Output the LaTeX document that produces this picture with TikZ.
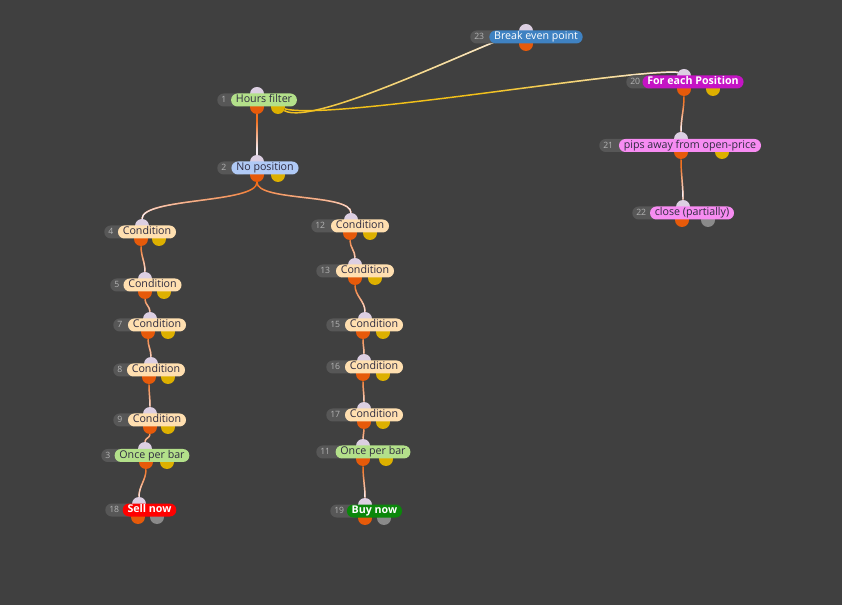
\documentclass[tikz,border=0pt]{standalone}
\usepackage{fontspec}
\setmainfont{Open Sans}
\usetikzlibrary{calc,fadings}

\definecolor{canvas}{HTML}{404040}
\definecolor{numfill}{HTML}{575757}
\definecolor{numtext}{HTML}{B4B4B4}
\definecolor{darktext}{HTML}{2E2B40}
\definecolor{greenfill}{HTML}{B3E08A}
\definecolor{bluefill}{HTML}{B0CAF6}
\definecolor{peachfill}{HTML}{FFDFB0}
\definecolor{steelfill}{HTML}{3F82C2}
\definecolor{magentafill}{HTML}{C514C5}
\definecolor{pinkfill}{HTML}{F78CF2}
\definecolor{sellred}{HTML}{FF0000}
\definecolor{buygreen}{HTML}{0B870B}
\definecolor{inportc}{HTML}{DCCFE2}
\definecolor{outportc}{HTML}{E65A0A}
\definecolor{auxportc}{HTML}{DDB000}
\definecolor{offportc}{HTML}{8A8A8A}
\definecolor{wireorange}{HTML}{F2701E}
\definecolor{wiregold}{HTML}{F2C019}
\definecolor{wirelight}{HTML}{F6ECF2}

\pgfdeclarelayer{back}
\pgfdeclarelayer{wires}
\pgfsetlayers{back,wires,main}

\tikzfading[name=tochild, top color=transparent!100, bottom color=transparent!0]
\tikzfading[name=toright, left color=transparent!100, right color=transparent!0]
\tikzfading[name=toend, left color=transparent!100, right color=transparent!0, middle color=transparent!100]

\begin{document}
\begin{tikzpicture}[x=0.75pt, y=0.75pt,
  lbl/.style={rounded corners=4.8pt, minimum height=9.75pt, inner xsep=3.6pt, inner ysep=0pt,
    text height=5.9pt, text depth=1.7pt, font=\fontsize{8}{9}\selectfont, text=darktext},
  condbox/.style={lbl, fill=peachfill},
  greenbox/.style={lbl, fill=greenfill},
  pinkbox/.style={lbl, fill=pinkfill},
  numpill/.style={anchor=west, fill=numfill, rounded corners=4.8pt, minimum height=9.75pt,
    inner xsep=3pt, inner ysep=0pt, text width=17pt, align=left, text height=4.8pt, text depth=0.5pt,
    font=\fontsize{6.5}{7}\selectfont, text=numtext},
  port/.style={circle, minimum size=10.5pt, inner sep=0pt},
  inport/.style={port, fill=inportc},
  outport/.style={port, fill=outportc},
  auxport/.style={port, fill=auxportc},
  offport/.style={port, fill=offportc},
  link/.style 2 args={draw=wireorange, line width=1.1pt, postaction={draw=wirelight, path fading=tochild,
    fit fading=false, fading transform={shift={($(#1)!0.5!(#2)$)}, xscale=2, yscale=0.42}}},
  goldlink/.style={draw=wiregold, line width=1.1pt, postaction={draw=wirelight, path fading=#1}}
]
\useasboundingbox (0,0) rectangle (842,-605);
\begin{pgfonlayer}{back}
\fill[canvas] (0,0) rectangle (842,-605);
\end{pgfonlayer}

% ports
\node[inport] (i1) at (257,-94) {};
\node[outport] (o1) at (257,-107) {};
\node[auxport] (y1) at (278,-107) {};
\node[inport] (i2) at (257,-162) {};
\node[outport] (o2) at (257,-175) {};
\node[auxport] (y2) at (278,-175) {};
\node[inport] (i23) at (526,-31) {};
\node[outport] (o23) at (526,-44) {};
\node[inport] (i20) at (684,-76) {};
\node[outport] (o20) at (684,-89) {};
\node[auxport] (y20) at (713,-89) {};
\node[inport] (i21) at (681,-139) {};
\node[outport] (o21) at (681,-152) {};
\node[auxport] (y21) at (722,-152) {};
\node[inport] (i22) at (683,-207) {};
\node[outport] (o22) at (682,-220) {};
\node[offport] (g22) at (708,-220) {};
\node[inport] (i4) at (142,-226) {};
\node[outport] (o4) at (141,-239) {};
\node[auxport] (y4) at (159,-239) {};
\node[inport] (i5) at (145,-279) {};
\node[outport] (o5) at (145,-292) {};
\node[auxport] (y5) at (164,-292) {};
\node[inport] (i7) at (150,-319) {};
\node[outport] (o7) at (148,-332) {};
\node[auxport] (y7) at (168,-332) {};
\node[inport] (i8) at (151,-364) {};
\node[outport] (o8) at (149,-377) {};
\node[auxport] (y8) at (168,-377) {};
\node[inport] (i9) at (150,-414) {};
\node[outport] (o9) at (150,-427) {};
\node[auxport] (y9) at (168,-427) {};
\node[inport] (i3) at (145,-449) {};
\node[outport] (o3) at (146,-462) {};
\node[auxport] (y3) at (167,-462) {};
\node[inport] (i18) at (139,-504) {};
\node[outport] (o18) at (138,-517) {};
\node[offport] (g18) at (157,-517) {};
\node[inport] (i12) at (351,-220) {};
\node[outport] (o12) at (350,-233) {};
\node[auxport] (y12) at (370,-233) {};
\node[inport] (i13) at (355,-265) {};
\node[outport] (o13) at (355,-278) {};
\node[auxport] (y13) at (375,-278) {};
\node[inport] (i15) at (365,-319) {};
\node[outport] (o15) at (363,-332) {};
\node[auxport] (y15) at (383,-332) {};
\node[inport] (i16) at (364,-361) {};
\node[outport] (o16) at (363,-374) {};
\node[auxport] (y16) at (383,-374) {};
\node[inport] (i17) at (364,-409) {};
\node[outport] (o17) at (364,-422) {};
\node[auxport] (y17) at (383,-422) {};
\node[inport] (i11) at (363,-446) {};
\node[outport] (o11) at (363,-459) {};
\node[auxport] (y11) at (386,-459) {};
\node[inport] (i19) at (365,-505) {};
\node[outport] (o19) at (365,-518) {};
\node[offport] (g19) at (384,-518) {};

% number tabs
\node[numpill] (n1) at (217,-100) {1};
\node[numpill] (n2) at (217,-168) {2};
\node[numpill] (n23) at (470,-37) {23};
\node[numpill] (n20) at (626,-82) {20};
\node[numpill] (n21) at (599,-145.5) {21};
\node[numpill] (n22) at (632,-213) {22};
\node[numpill] (n4) at (104,-232) {4};
\node[numpill] (n5) at (110,-285) {5};
\node[numpill] (n7) at (113,-325) {7};
\node[numpill] (n8) at (113,-370) {8};
\node[numpill] (n9) at (113,-420) {9};
\node[numpill] (n3) at (101,-455.5) {3};
\node[numpill] (n18) at (105,-510) {18};
\node[numpill] (n12) at (311,-226) {12};
\node[numpill] (n13) at (316,-271) {13};
\node[numpill] (n15) at (326,-325) {15};
\node[numpill] (n16) at (326,-367) {16};
\node[numpill] (n17) at (326,-415) {17};
\node[numpill] (n11) at (316,-452) {11};
\node[numpill] (n19) at (330,-511) {19};

% blocks
\node[greenbox] (l1) at (264,-100) {Hours filter};
\node[lbl, fill=bluefill] (l2) at (265,-168) {No position};
\node[lbl, fill=steelfill, text=white] (l23) at (536,-37) {Break even point};
\node[lbl, fill=magentafill, text=white, font=\fontsize{8}{9}\selectfont\bfseries] (l20) at (693,-82) {For each Position};
\node[pinkbox] (l21) at (690,-145.5) {pips away from open-price};
\node[pinkbox] (l22) at (692,-213) {close (partially)};
\node[condbox] (l4) at (147,-232) {Condition};
\node[condbox] (l5) at (152.5,-285) {Condition};
\node[condbox] (l7) at (157,-325) {Condition};
\node[condbox] (l8) at (156,-370) {Condition};
\node[condbox] (l9) at (157,-420) {Condition};
\node[greenbox] (l3) at (152,-455.5) {Once per bar};
\node[lbl, fill=sellred, text=white, font=\fontsize{8}{9}\selectfont\bfseries] (l18) at (149.5,-510) {Sell now};
\node[condbox] (l12) at (360,-226) {Condition};
\node[condbox] (l13) at (365,-271) {Condition};
\node[condbox] (l15) at (374,-325) {Condition};
\node[condbox] (l16) at (374,-367) {Condition};
\node[condbox] (l17) at (374,-415) {Condition};
\node[greenbox] (l11) at (373,-452) {Once per bar};
\node[lbl, fill=buygreen, text=white, font=\fontsize{8}{9}\selectfont\bfseries] (l19) at (374.5,-511) {Buy now};

% wires
\begin{pgfonlayer}{wires}
\draw[goldlink=toright] (y1) to[out=-30, in=195, looseness=0.35] (i23);
\draw[goldlink=toend] (y1) to[out=-15, in=175, looseness=0.3] (i20.150);
\draw[link={o1}{i2}] (o1) to[out=-90, in=90] (i2);
\draw[link={o2}{i4}] (o2) to[out=-90, in=90, looseness=0.45] (i4);
\draw[link={o2}{i12}] (o2) to[out=-90, in=90, looseness=0.5] (i12);
\draw[link={o4}{i5}] (o4) to[out=-90, in=90] (i5);
\draw[link={o5}{i7}] (o5) to[out=-90, in=90] (i7);
\draw[link={o7}{i8}] (o7) to[out=-90, in=90] (i8);
\draw[link={o8}{i9}] (o8) to[out=-90, in=90] (i9);
\draw[link={o9}{i3}] (o9) to[out=-90, in=90] (i3);
\draw[link={o3}{i18}] (o3) to[out=-90, in=90] (i18);
\draw[link={o12}{i13}] (o12) to[out=-90, in=90] (i13);
\draw[link={o13}{i15}] (o13) to[out=-90, in=90] (i15);
\draw[link={o15}{i16}] (o15) to[out=-90, in=90] (i16);
\draw[link={o16}{i17}] (o16) to[out=-90, in=90] (i17);
\draw[link={o17}{i11}] (o17) to[out=-90, in=90] (i11);
\draw[link={o11}{i19}] (o11) to[out=-90, in=90] (i19);
\draw[link={o20}{i21}] (o20) to[out=-90, in=90] (i21);
\draw[link={o21}{i22}] (o21) to[out=-90, in=90] (i22);
\end{pgfonlayer}
\end{tikzpicture}
\end{document}
